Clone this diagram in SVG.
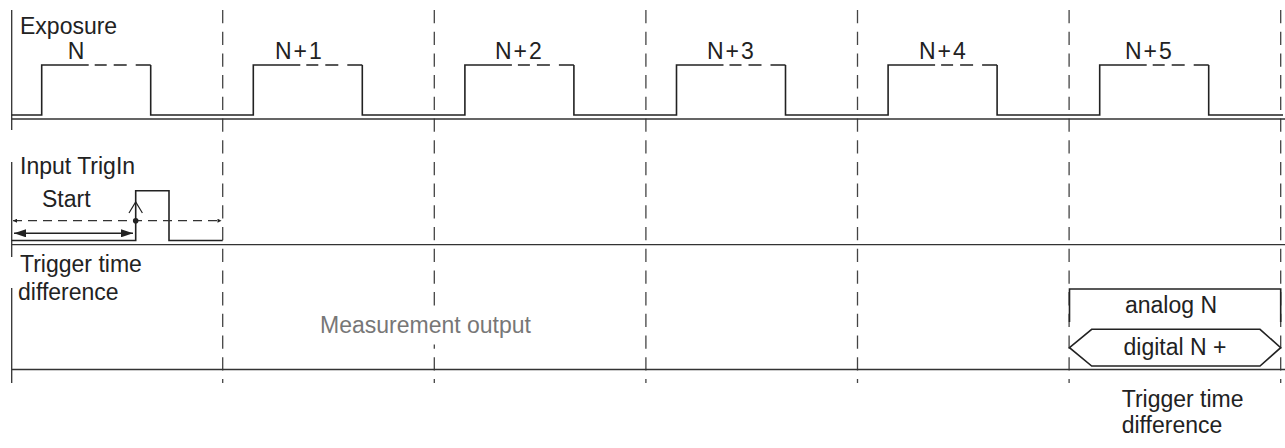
<svg xmlns="http://www.w3.org/2000/svg" width="1285" height="448" viewBox="0 0 1285 448">
<style>
text{font-family:"Liberation Sans",Arial,Helvetica,sans-serif;font-size:23px;fill:#222}
.lbl{letter-spacing:2px}
.gray{fill:#777}
.sig{fill:none;stroke:#222;stroke-width:1.6}
.ax{fill:none;stroke:#333;stroke-width:1.3}
.vd{fill:none;stroke:#444;stroke-width:1.3;stroke-dasharray:13.3 8.4}
.hd{fill:none;stroke:#333;stroke-width:1.2;stroke-dasharray:9 6}
</style>
<defs>
<marker id="sa" viewBox="0 0 10 10" refX="10" refY="5" markerWidth="6" markerHeight="4" orient="auto-start-reverse" markerUnits="userSpaceOnUse">
<path d="M0,0 L10,5 L0,10 z" fill="#222"/>
</marker>
<marker id="la" viewBox="0 0 12 8" refX="12" refY="4" markerWidth="12" markerHeight="8" orient="auto-start-reverse" markerUnits="userSpaceOnUse">
<path d="M0,0 L12,4 L0,8 z" fill="#222"/>
</marker>
</defs>
<rect width="1285" height="448" fill="#fff"/>
<g id="grid">
<path class="vd" d="M222.7,10 V383 M434.3,10 V383 M645.9,10 V383 M857.5,10 V383 M1069.1,10 V383 M1280.7,10 V383"/>
</g>
<g id="exposure">
<path class="ax" d="M11.7,10 V130 M11.7,119 H1285"/>
<path class="sig" d="M11.7,115 H41.7 V65 H88.7 M150.7,65 V115 H253.3 V65 H300.3 M362.3,65 V115 H464.9 V65 H511.9 M573.9,65 V115 H676.5 V65 H723.5 M785.5,65 V115 H888.1 V65 H935.1 M997.1,65 V115 H1099.7 V65 H1146.7 M1208.7,65 V115 H1283"/>
<path class="sig" d="M94.7,65 H106.7 M113.7,65 H126.7 M135.7,65 H150.7 M306.3,65 H318.3 M325.3,65 H338.3 M347.3,65 H362.3 M517.9,65 H529.9 M536.9,65 H549.9 M558.9,65 H573.9 M729.5,65 H741.5 M748.5,65 H761.5 M770.5,65 H785.5 M941.1,65 H953.1 M960.1,65 H973.1 M982.1,65 H997.1 M1152.7,65 H1164.7 M1171.7,65 H1184.7 M1193.7,65 H1208.7"/>
<text x="20" y="33.5">Exposure</text>
<text x="76" y="58.5" text-anchor="middle">N</text>
<text class="lbl" x="275" y="59">N+1</text>
<text class="lbl" x="495" y="59">N+2</text>
<text class="lbl" x="707" y="59">N+3</text>
<text class="lbl" x="919" y="59">N+4</text>
<text class="lbl" x="1125" y="59">N+5</text>
</g>
<g id="trigin">
<path class="ax" d="M11.7,162 V257 M11.7,244.7 H1285"/>
<path class="sig" d="M11.7,240.5 H135.7 V190.7 H169 V240.5 H222.7"/>
<text x="20" y="174.3">Input TrigIn</text>
<text x="42" y="206.7">Start</text>
<text x="20" y="271.5">Trigger time</text>
<text x="18" y="299.5">difference</text>
</g>
<g id="connectors">
<path class="hd" d="M13,220.7 H221.5" marker-start="url(#sa)" marker-end="url(#sa)"/>
<path d="M14,233.3 H133" fill="none" stroke="#222" stroke-width="1.6" marker-start="url(#la)" marker-end="url(#la)"/>
<path d="M129,213 L135.7,202 L142.4,213" fill="none" stroke="#222" stroke-width="1.2"/>
<circle cx="135.7" cy="220.7" r="2.8" fill="#222"/>
</g>
<g id="output">
<path class="ax" d="M11.7,288 V383 M11.7,369.5 H1285"/>
<rect x="318" y="311.5" width="222" height="33" fill="#fff"/>
<text class="gray" x="320" y="333">Measurement output</text>
</g>
<g id="analog">
<path class="sig" d="M1069.5,322 V289 H1280.7 V322"/>
<text x="1171" y="313.3" text-anchor="middle">analog N</text>
</g>
<g id="digital">
<path class="sig" d="M1069.5,347.7 L1091.7,329.3 H1260 L1280.7,347.7 L1260,366 H1091.7 Z"/>
<text x="1175" y="355" text-anchor="middle">digital N +</text>
</g>
<g id="note">
<text x="1121.7" y="406.7">Trigger time</text>
<text x="1121.7" y="433.3">difference</text>
</g>
</svg>
